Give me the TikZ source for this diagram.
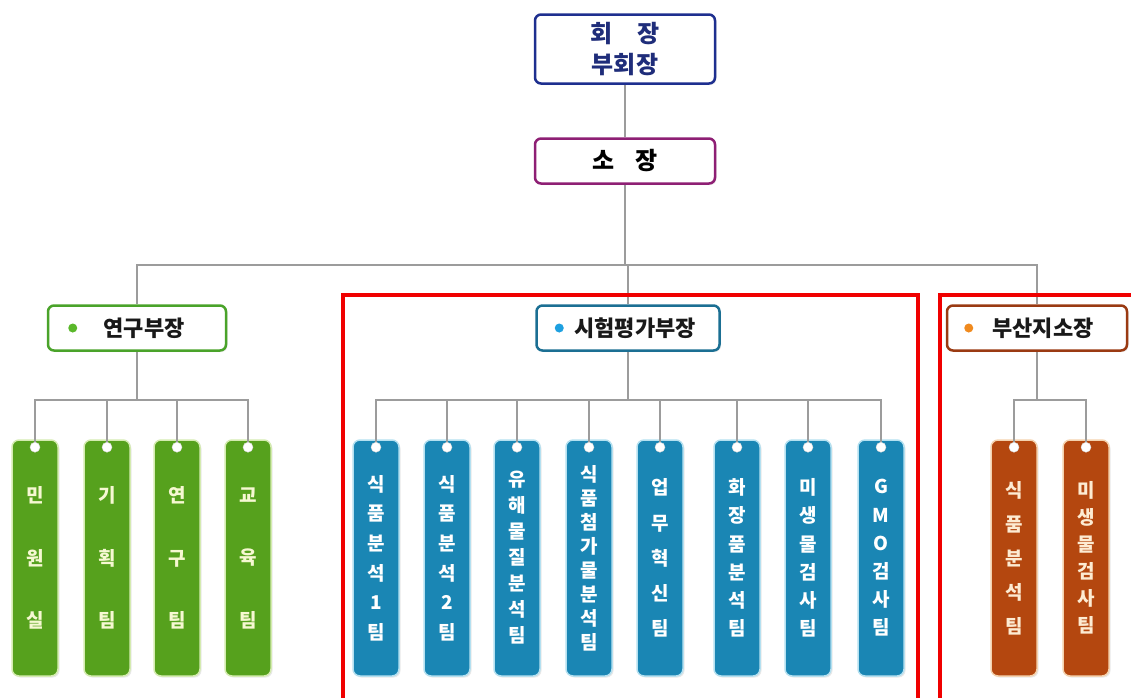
\documentclass[tikz,border=0pt]{standalone}
\usepackage{fontspec}
\setmainfont{Noto Sans CJK KR}
\usetikzlibrary{calc,shadows}
\definecolor{topblue}{HTML}{1E2F8F}
\definecolor{toptext}{HTML}{1F2D7A}
\definecolor{sopurple}{HTML}{8E1F74}
\definecolor{gborder}{HTML}{4AA32A}
\definecolor{gdot}{HTML}{5AB82A}
\definecolor{bborder}{HTML}{1B6F93}
\definecolor{bdot}{HTML}{1EA0E0}
\definecolor{rborder}{HTML}{9A3A12}
\definecolor{rdot}{HTML}{F08A1E}
\definecolor{gfill}{HTML}{56A11D}
\definecolor{grim}{HTML}{D4EBB0}
\definecolor{gtext}{HTML}{F6F8D2}
\definecolor{bfill}{HTML}{1A86B4}
\definecolor{brim}{HTML}{B4E0F0}
\definecolor{rfill}{HTML}{B4470F}
\definecolor{rrim}{HTML}{F4D2AE}
\definecolor{rtext}{HTML}{FDEBD2}
\definecolor{connc}{HTML}{9C9C9C}
\definecolor{redbox}{HTML}{F00000}
\begin{document}
\begin{tikzpicture}[x=1pt,y=-1pt,
  conn/.style={draw=connc,line width=1.5pt},
  headbox/.style={draw=#1,line width=2.5pt,fill=white,rounded corners=6pt,
    minimum width=180pt,inner sep=0pt,
    drop shadow={opacity=0.15,shadow xshift=1.5pt,shadow yshift=-1.5pt}},
  deptbox/.style={draw=#1,line width=2.5pt,fill=white,rounded corners=6pt,
    minimum width=178pt,minimum height=45pt,inner sep=0pt,
    font=\fontsize{22}{24}\selectfont\bfseries,text=black!90,
    drop shadow={opacity=0.15,shadow xshift=1.5pt,shadow yshift=-1.5pt}},
  tagbox/.style={fill=#1,rounded corners=7pt,minimum width=46pt,minimum height=236pt,
    inner sep=0pt,align=center,
    drop shadow={opacity=0.18,shadow xshift=1.5pt,shadow yshift=-1.5pt}},
  hole/.style={fill=white,draw=black!15,line width=0.4pt},
  redframe/.style={draw=redbox,line width=3.5pt}
]
\useasboundingbox (0,0) rectangle (1131,697);

% top boxes
\node[headbox=topblue,minimum height=69pt,align=center,text=toptext,
  font=\fontsize{24}{31}\selectfont\bfseries] (top) at (625,49)
  {회\hspace{1em}장\\부회장};
\node[headbox=sopurple,minimum height=45pt,text=black,
  font=\fontsize{24}{28}\selectfont\bfseries] (so) at (625,161)
  {소\hspace{0.85em}장};

% departments
\node[deptbox=gborder] (yeongu) at (137,328) {\hspace{14pt}연구부장};
\node[deptbox=bborder,minimum width=183pt] (siheom) at (628,328) {\hspace{14pt}시험평가부장};
\node[deptbox=rborder,minimum width=180pt] (busan) at (1037,328) {\hspace{12pt}부산지소장};
\fill[gdot] ($(yeongu.west)+(26,0)$) circle (4.5);
\fill[bdot] ($(siheom.west)+(24,0)$) circle (4.5);
\fill[rdot] ($(busan.west)+(23,0)$) circle (4.5);

% tags
\foreach \n/\x/\s/\t in {
  g1/35/62.5/{민\\원\\실}, g2/107/62.5/{기\\획\\팀}, g3/177/62.5/{연\\구\\팀}, g4/248/62.5/{교\\육\\팀}}
  {\node[tagbox=gfill,draw=grim,line width=1.5pt,text=gtext,
     font=\fontsize{19}{\s}\selectfont\bfseries] (\n) at (\x,558) {\t};}
\foreach \n/\x/\s/\t in {
  b1/376/29.6/{식\\품\\분\\석\\1\\팀}, b2/447/29.6/{식\\품\\분\\석\\2\\팀},
  b3/517/26/{유\\해\\물\\질\\분\\석\\팀}, b4/589/24/{식\\품\\첨\\가\\물\\분\\석\\팀},
  b5/660/35.2/{업\\무\\혁\\신\\팀}, b6/737/28.2/{화\\장\\품\\분\\석\\팀},
  b7/808/28.2/{미\\생\\물\\검\\사\\팀}, b8/881/28.2/{G\\M\\O\\검\\사\\팀}}
  {\node[tagbox=bfill,draw=brim,line width=1.5pt,text=white,
     font=\fontsize{19}{\s}\selectfont\bfseries] (\n) at (\x,558) {\t};}
\foreach \n/\x/\s/\t in {
  r1/1014/34/{식\\품\\분\\석\\팀}, r2/1086/27/{미\\생\\물\\검\\사\\팀}}
  {\node[tagbox=rfill,draw=rrim,line width=1.5pt,text=rtext,
     font=\fontsize{19}{\s}\selectfont\bfseries] (\n) at (\x,558) {\t};}

% connectors
\coordinate (hub) at (625,265);
\coordinate (gbus) at (137,400);
\coordinate (bbus) at (628,400);
\coordinate (rbus) at (1037,400);
\draw[conn] (top.south) -- (so.north);
\draw[conn] (so.south) -- (hub);
\draw[conn] (hub) -- (hub -| siheom.north) -- (siheom.north);
\draw[conn] (hub) -| (yeongu.north);
\draw[conn] (hub) -| (busan.north);
\draw[conn] (yeongu.south) -- (gbus);
\draw[conn] (siheom.south) -- (bbus);
\draw[conn] (busan.south) -- (rbus);
\foreach \n in {g1,g2,g3,g4} {\draw[conn] (gbus) -| ($(\n.north)+(0,8)$);}
\foreach \n in {b1,b2,b3,b4,b5,b6,b7,b8} {\draw[conn] (bbus) -| ($(\n.north)+(0,8)$);}
\foreach \n in {r1,r2} {\draw[conn] (rbus) -| ($(\n.north)+(0,8)$);}
\foreach \n in {g1,g2,g3,g4,b1,b2,b3,b4,b5,b6,b7,b8,r1,r2}
  {\filldraw[hole] ($(\n.north)+(0,8)$) circle (5);}

% red frames
\draw[redframe] (343,710) -- (343,295) -- (918,295) -- (918,710);
\draw[redframe] (940,710) -- (940,295) -- (1150,295);
\end{tikzpicture}
\end{document}
